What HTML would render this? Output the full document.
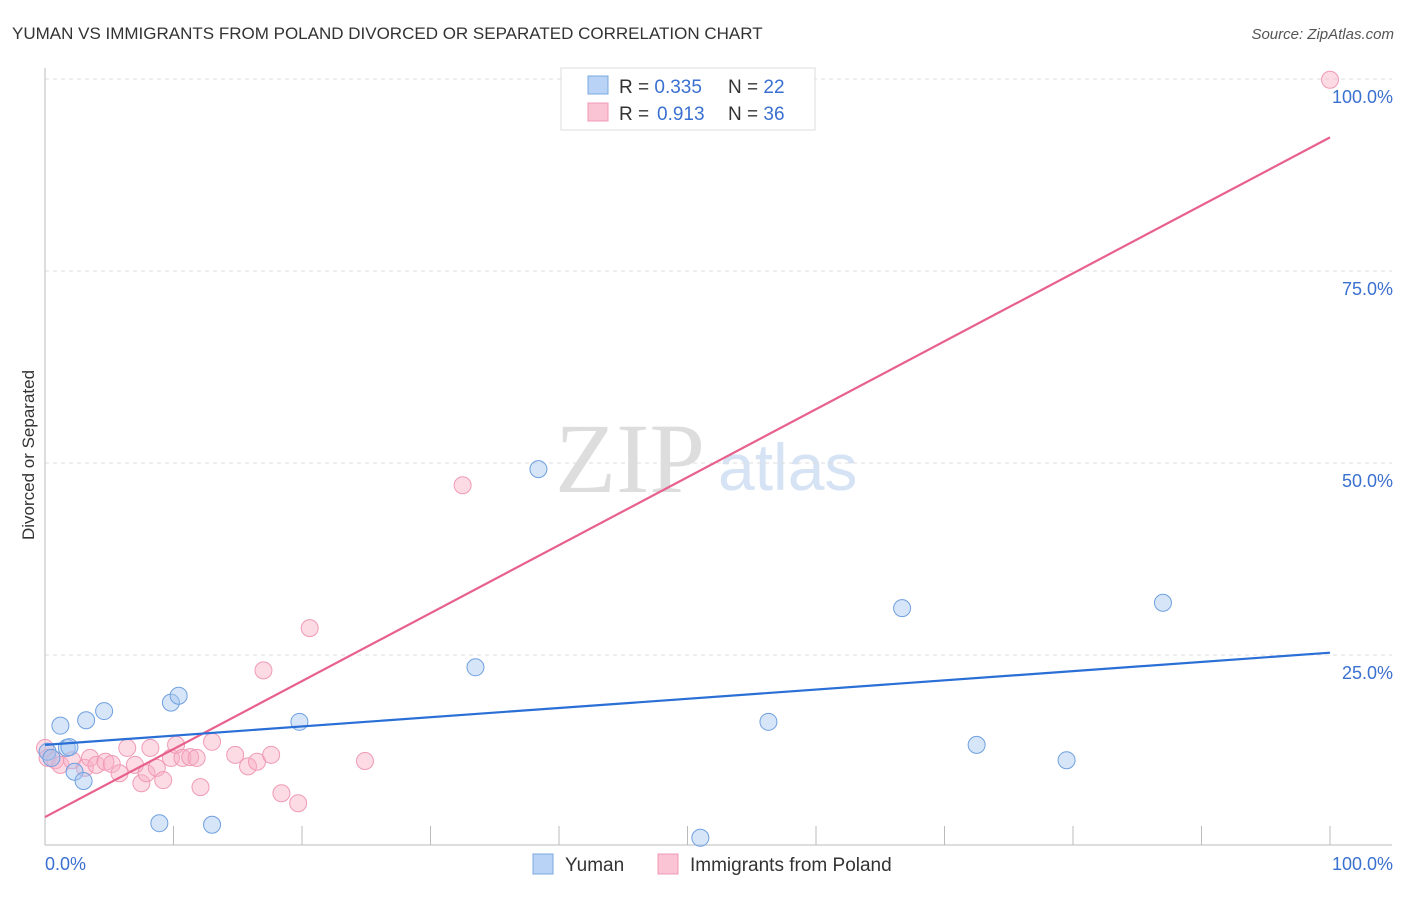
<!DOCTYPE html>
<html><head><meta charset="utf-8"><style>
body{margin:0;background:#fff;font-family:"Liberation Sans",sans-serif}
svg text{font-family:"Liberation Sans",sans-serif}
</style></head><body>
<svg id="c" width="1406" height="892">
<text x="12" y="39" font-size="17" fill="#333">YUMAN VS IMMIGRANTS FROM POLAND DIVORCED OR SEPARATED CORRELATION CHART</text>
<text x="1394" y="39" font-size="15" fill="#555" font-style="italic" text-anchor="end">Source: ZipAtlas.com</text>
<text x="34" y="455" font-size="17" fill="#333" transform="rotate(-90 34 455)" text-anchor="middle">Divorced or Separated</text>
<text x="555" y="492" font-size="100" fill="#ddd" font-family="Liberation Serif" style="font-family:'Liberation Serif',serif">ZIP</text>
<text x="718" y="490" font-size="66" fill="#d6e3f5">atlas</text>
<g id="grid"></g><g id="pts"></g><g id="lines"></g>
<g>
<rect x="561" y="68" width="254" height="62" fill="#fff" stroke="#ddd"/>
<rect x="588" y="76" width="20" height="18" fill="#b8d3f5" stroke="#7aa8e0"/>
<rect x="588" y="103" width="20" height="18" fill="#fac4d4" stroke="#f09ab6"/>
<text x="619" y="93" font-size="19" fill="#333">R = <tspan fill="#3a70d0">0.335</tspan><tspan x="728">N = </tspan><tspan fill="#3a70d0">22</tspan></text>
<text x="619" y="120" font-size="19" fill="#333">R = <tspan fill="#3a70d0" x="657">0.913</tspan><tspan x="728">N = </tspan><tspan fill="#3a70d0">36</tspan></text>
</g>
<g>
<rect x="533" y="854" width="20" height="20" fill="#b8d3f5" stroke="#7aa8e0"/>
<text x="565" y="871" font-size="19" fill="#333">Yuman</text>
<rect x="658" y="854" width="20" height="20" fill="#fac4d4" stroke="#f09ab6"/>
<text x="690" y="871" font-size="19" fill="#333">Immigrants from Poland</text>
</g>
</svg>
<script>
const yTicks=[25,50,75,100];
const yTickLabels=["25.0%","50.0%","75.0%","100.0%"];
const xTickLabels=["0.0%","100.0%"];
const yumanX=[0.2,0.5,1.2,1.7,1.9,2.3,3.0,3.2,4.6,8.9,9.8,10.4,13.0,19.8,33.5,38.4,51.0,56.3,66.7,72.5,79.5,87.0];
const yumanY=[12.4,11.6,15.8,12.9,13.0,9.8,8.6,16.5,17.7,3.1,18.8,19.7,2.9,16.3,23.4,49.2,1.2,16.3,31.1,13.3,11.3,31.8];
const polandX=[0,0.2,0.8,1.2,2.1,3.1,3.5,4.0,4.7,5.2,5.8,6.4,7.0,7.5,7.9,8.2,8.7,9.2,9.8,10.2,10.7,11.3,11.8,12.1,13.0,14.8,15.8,16.5,17.0,17.6,18.4,19.7,20.6,24.9,32.5,100];
const polandY=[12.9,11.6,11.3,10.7,11.3,10.3,11.6,10.7,11.1,10.8,9.6,12.9,10.7,8.3,9.6,12.9,10.3,8.7,11.6,13.3,11.6,11.7,11.6,7.8,13.7,12.0,10.5,11.1,23.0,12.0,7.0,5.7,28.5,11.2,47.1,99.9];
const yumanTrend=[13.3,25.3];
const polandTrend=[3.9,92.4];
const NS="http://www.w3.org/2000/svg";
const X=v=>45+v*12.85, Y=v=>847-v*7.68;
function mk(t,a,p){const e=document.createElementNS(NS,t);for(const k in a)e.setAttribute(k,a[k]);p.appendChild(e);return e;}
const grid=document.getElementById('grid');
yTicks.forEach((t,i)=>{
 const l=mk('line',{x1:45,x2:1392,y1:Y(t),y2:Y(t),stroke:'#ddd','stroke-dasharray':'4,4'},grid);
 
 
 const tx=mk('text',{x:1393,y:Y(t)+24,'font-size':18,fill:'#3a70d0','text-anchor':'end'},grid);
 tx.textContent=yTickLabels[i];
 
 
});
let ax=mk('line',{x1:45,x2:45,y1:68,y2:845,stroke:'#bbb'},grid);


ax=mk('line',{x1:45,x2:1392,y1:845,y2:845,stroke:'#bbb'},grid);


for(let i=1;i<=10;i++){const tk=mk('line',{x1:X(i*10),x2:X(i*10),y1:826,y2:845,stroke:'#bbb'},grid);
 
 }
[[0,'start',45],[100,'end',1393]].forEach((d,i)=>{const t=mk('text',{x:d[2],y:870,'font-size':18,fill:'#3a70d0','text-anchor':d[1]},grid);t.textContent=xTickLabels[i];
 
 });
const pts=document.getElementById('pts');
polandX.forEach((x,i)=>{const c=mk('circle',{cx:X(x),cy:Y(polandY[i]),r:8.5,fill:'rgba(248,175,198,0.45)',stroke:'#f09ab6','stroke-width':1},pts);
 
 });
yumanX.forEach((x,i)=>{const c=mk('circle',{cx:X(x),cy:Y(yumanY[i]),r:8.5,fill:'rgba(165,198,240,0.45)',stroke:'#6fa0e0','stroke-width':1},pts);
 
 });
const lines=document.getElementById('lines');
let tl=mk('line',{x1:X(0),y1:Y(polandTrend[0]),x2:X(100),y2:Y(polandTrend[1]),stroke:'#e8608c','stroke-width':2.2},lines);


tl=mk('line',{x1:X(0),y1:Y(yumanTrend[0]),x2:X(100),y2:Y(yumanTrend[1]),stroke:'#2a6fd6','stroke-width':2.2},lines);


</script>
</body></html>
